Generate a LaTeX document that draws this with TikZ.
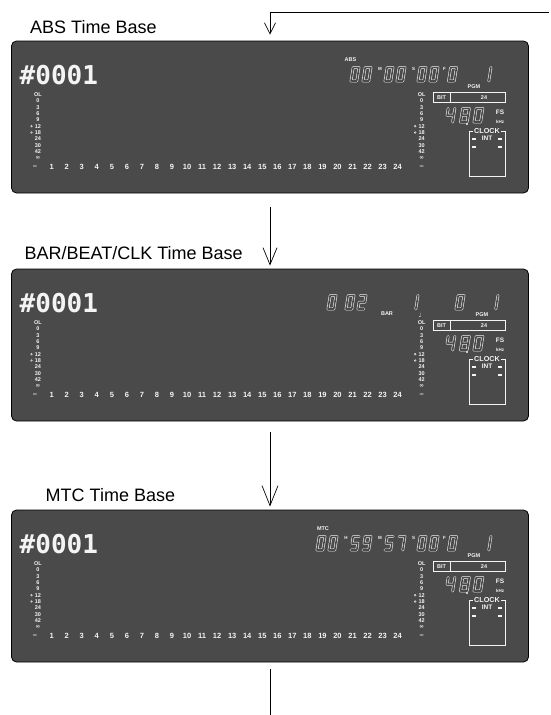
\documentclass[tikz,border=0pt]{standalone}
\usepackage{fontspec}
\setmainfont{Liberation Sans}
\newfontfamily\lcdfont{DejaVu Sans Mono}
\newfontfamily\symfont{DejaVu Sans}
\usetikzlibrary{arrows.meta}
\definecolor{lcd}{HTML}{4A4A4A}
\definecolor{lcdink}{HTML}{F4F4F4}
\tikzset{
  panel/.style={draw=black,line width=0.8pt,fill=lcd,rounded corners=5pt,inner sep=0pt,
    minimum width=517pt,minimum height=152pt},
  tblab/.style={anchor=base west,inner sep=0pt,font=\fontsize{18}{18}\selectfont},
  tag/.style={inner sep=0pt,text=lcdink,font=\bfseries\fontsize{5.5}{5.5}\selectfont},
  chn/.style={inner sep=0pt,text=lcdink,font=\bfseries\fontsize{7.5}{7.5}\selectfont},
  unitlab/.style={tag,font=\bfseries\fontsize{4.5}{4.5}\selectfont},
  lcdnum/.style={anchor=base west,inner sep=0pt,text=lcdink,font=\lcdfont\bfseries\fontsize{26}{26}\selectfont},
  lcdbox/.style={draw=lcdink,line width=0.6pt},
  seg/.style={draw=lcdink,line width=0.55pt,double=lcd,double distance=1.6pt,line join=round,line cap=round},
  arr/.style={draw=black,line width=0.7pt},
  d0/.style={insert path={(0,0) rectangle (5.8,-13.5)}},
  d1/.style={insert path={(5.8,0) -- (5.8,-13.5)}},
  d2/.style={insert path={(0,-13.5) -- (5.8,-13.5) -- (5.8,-6.75) -- (0,-6.75) -- (0,0) -- (5.8,0)}},
  d4/.style={insert path={(0,-13.5) -- (0,-6.75) -- (5.8,-6.75) (5.8,-13.5) -- (5.8,0)}},
  d5/.style={insert path={(5.8,-13.5) -- (0,-13.5) -- (0,-6.75) -- (5.8,-6.75) -- (5.8,0) -- (0,0)}},
  d7/.style={insert path={(0,-13.5) -- (5.8,-13.5) -- (5.8,0)}},
  d8/.style={insert path={(0,0) rectangle (5.8,-13.5) (0,-6.75) -- (5.8,-6.75)}},
  d9/.style={insert path={(5.8,-6.75) -- (0,-6.75) -- (0,-13.5) -- (5.8,-13.5) -- (5.8,0) -- (0,0)}},
}
% seven segment digit: [scale]{x}{y of base}{digit}
\newcommand{\segdig}[4][]{\draw[seg,shift={(#2,#3)},xslant=0.16,#1] [d#4];}
\newcommand{\segpair}[4]{\segdig{#1}{#2}{#3}\segdig{#1+12}{#2}{#4}}
% parts shared by every display, #1 = top of panel
\newcommand{\lcdbase}[1]{%
\begin{scope}[shift={(0,#1)}]
  \node[lcdnum] (num#1) at (19.5,43) {\#0001};
  % level meters
  \foreach \lab [count=\i from 0] in {OL,0,3,6,9,12,18,24,30,42,{\symfont ∞}} {
    \node[tag] (ml#1\i) at (38,53.5+6.34*\i) {\lab};
    \node[tag] (mr#1\i) at (421.7,53.5+6.34*\i) {\lab};
  }
  \foreach \i in {5,6} {
    \draw[lcdink,line width=0.4pt] (31.5,53.5+6.34*\i) circle[radius=0.9pt];
    \draw[lcdink,line width=0.4pt] (415.2,53.5+6.34*\i) circle[radius=0.9pt];
  }
  % channel numbers
  \node[chn] (cl#1) at (35,126) {–};
  \foreach \n in {1,...,24}
    \node[chn] (ch#1\n) at (51.7+15.04*\n-15.04,126) {\n};
  \node[chn] (cr#1) at (421.7,126) {–};
  % bit / fs
  \draw[lcdbox] (433,51) rectangle (505,61);
  \draw[lcdbox] (450,51) -- (450,61);
  \node[tag] (bit#1) at (441.5,56.2) {BIT};
  \node[tag] (bw#1) at (484,56.2) {24};
  \segdig[xscale=1.15]{446}{81}{4}
  \segdig[xscale=1.15]{460.5}{81}{8}
  \segdig[xscale=1.15]{474}{81}{0}
  \fill[lcdink] (467,83) circle[radius=1.1pt];
  \node[tag,font=\bfseries\fontsize{6.5}{6.5}\selectfont] (fs#1) at (500,71) {FS};
  \node[unitlab] (khz#1) at (500,80.5) {kHz};
  % clock
  \draw[lcdbox] (469,90) rectangle (505,135);
  \node[tag,fill=lcd,inner xsep=0.8pt,inner ysep=0.3pt,font=\bfseries\fontsize{7.2}{7.2}\selectfont] (clk#1) at (487,90) {CLOCK};
  \node[tag,font=\bfseries\fontsize{6.5}{6.5}\selectfont] (int#1) at (487,97.5) {INT};
  \foreach \xx in {474,500} \foreach \yy in {97.5,105.5}
    \draw[lcdink,line width=0.4pt] (\xx-1.5,\yy-0.6) rectangle (\xx+1.5,\yy+0.6);
\end{scope}}

\begin{document}
\begin{tikzpicture}[x=1pt,y=-1pt]
\useasboundingbox (0,0) rectangle (551,715);
% displays
\node[panel] (abs) at (270,117) {};
\node[panel] (bar) at (270,345) {};
\node[panel] (mtc) at (270,586) {};
\node[tblab] (tabs) at (30,33) {ABS Time Base};
\node[tblab] (tbar) at (24.5,259) {BAR/BEAT/CLK Time Base};
\node[tblab] (tmtc) at (45.5,501) {MTC Time Base};
\lcdbase{41}
\lcdbase{269}
\lcdbase{510}
% ABS
\begin{scope}[shift={(0,41)}]
  \node[tag] (absl) at (350.5,18.5) {ABS};
  \segpair{351}{40}{0}{0}
  \node[unitlab] (am) at (380,28) {M};
  \segpair{385}{40}{0}{0}
  \node[unitlab] (as) at (413.5,28) {S};
  \segpair{418}{40}{0}{0}
  \node[unitlab] (af) at (444.5,28) {F};
  \segdig{448.5}{40}{0}
  \segdig{483}{40}{1}
  \node[tag] (apgm) at (474,46) {PGM};
\end{scope}
% BAR/BEAT/CLK
\begin{scope}[shift={(0,269)}]
  \segdig{328}{40}{0}
  \segpair{346}{40}{0}{2}
  \node[tag] (barl) at (387,44.5) {BAR};
  \segdig{410}{40}{1}
  \node[tag,font=\symfont\fontsize{6}{6}\selectfont] (beat) at (420,46) {♩};
  \segdig{456}{40}{0}
  \segdig{490}{40}{1}
  \node[tag] (bpgm) at (482,46) {PGM};
\end{scope}
% MTC
\begin{scope}[shift={(0,510)}]
  \node[tag] (mtcl) at (323,18.5) {MTC};
  \segpair{317}{40}{0}{0}
  \node[unitlab] (mh) at (346,28) {H};
  \segpair{351}{40}{5}{9}
  \node[unitlab] (mm) at (380,28) {M};
  \segpair{385}{40}{5}{7}
  \node[unitlab] (ms) at (413.5,28) {S};
  \segpair{418}{40}{0}{0}
  \node[unitlab] (mf) at (444.5,28) {F};
  \segdig{448.5}{40}{0}
  \segdig{483}{40}{1}
  \node[tag] (mpgm) at (474,46) {PGM};
\end{scope}
% connectors
\coordinate (src) at (549,12);
\coordinate (sink) at (270,715);
\draw[arr,-{Straight Barb[length=11pt,width=11pt]},shorten >=6pt] (src) -| (abs.north);
\draw[arr,-{Straight Barb[length=17pt,width=14pt]},shorten <=14pt,shorten >=3pt] (abs.south) -- (bar.north);
\draw[arr,-{Straight Barb[length=20pt,width=16pt]},shorten <=11pt,shorten >=3pt] (bar.south) -- (mtc.north);
\draw[arr,shorten <=7pt] (mtc.south) -- (sink);
\end{tikzpicture}
\end{document}
